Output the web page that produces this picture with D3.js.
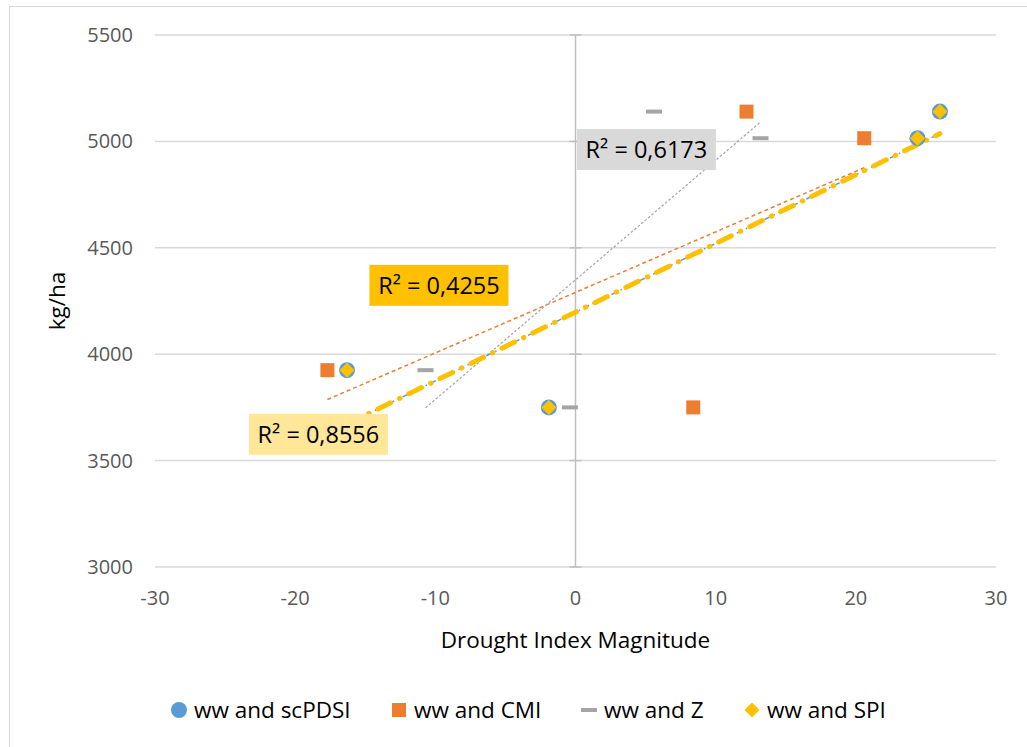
<!DOCTYPE html>
<html>
<head>
<meta charset="utf-8">
<script src="https://cdn.jsdelivr.net/npm/d3@7"></script>
<style>
  body { margin: 0; background: #fff; }
  svg { display: block; font-family: "Open Sans", "Noto Sans", sans-serif; }
  .tick-label { fill: #595959; font-size: 20px; }
  .axis-title { fill: #000; font-size: 22.5px; }
  .legend-text { fill: #000; font-size: 22.5px; }
  .r2-text { fill: #000; font-size: 23.5px; }
</style>
</head>
<body>
<div id="chart"></div>
<script>
// yields for the four years (kg/ha)
var yields = [3925, 3750, 5140, 5015];

// drought index values per index, same order as yields
var scPDSI = [-16.3, -1.9, 26.0, 24.4];
var cmi = [-17.7, 8.4, 12.2, 20.6];
var zIndex = [-10.7, -0.4, 5.6, 13.2];
var spi = [-16.3, -1.9, 26.0, 24.4];

var xTicks = [-30, -20, -10, 0, 10, 20, 30];
var yTicks = [3000, 3500, 4000, 4500, 5000, 5500];

// R² labels shown on the chart: text, anchor (data units)
var r2Labels = [
  { text: 'R² = 0,6173', x: 0.1, y: 5058, fill: '#d9d9d9' },
  { text: 'R² = 0,4255', x: -14.7, y: 4420, fill: '#ffc000' },
  { text: 'R² = 0,8556', x: -23.3, y: 3720, fill: '#ffe699' }
];

var series = [
  { key: 'scPDSI', name: 'ww and scPDSI', xs: scPDSI, color: '#5b9bd5', shape: 'circle',
    trend: { width: 1.5, dash: '6,4,1.5,4', cap: 'butt' } },
  { key: 'cmi', name: 'ww and CMI', xs: cmi, color: '#ed7d31', shape: 'square',
    trend: { width: 1.5, dash: '4,3', cap: 'butt' } },
  { key: 'z', name: 'ww and Z', xs: zIndex, color: '#a5a5a5', shape: 'dash',
    trend: { width: 1.25, dash: '2.5,2', cap: 'butt' } },
  { key: 'spi', name: 'ww and SPI', xs: spi, color: '#ffc000', shape: 'diamond',
    trend: { width: 5, dash: '14,10,0.5,10', cap: 'round' } }
];

var width = 1027, height = 747;
var margin = { top: 35, right: 31, bottom: 180, left: 155 };
var plotW = width - margin.left - margin.right;
var plotH = height - margin.top - margin.bottom;

var svg = d3.select('#chart').append('svg')
  .attr('width', width)
  .attr('height', height);

// chart area border (only left/top visible in the reference)
svg.append('rect')
  .attr('x', 9.5).attr('y', 6.5)
  .attr('width', 1040).attr('height', 760)
  .attr('fill', 'none')
  .attr('stroke', '#d9d9d9')
  .attr('stroke-width', 1);

var x = d3.scaleLinear().domain([-30, 30]).range([margin.left, margin.left + plotW]);
var y = d3.scaleLinear().domain([3000, 5500]).range([margin.top + plotH, margin.top]);

// horizontal gridlines
svg.append('g').selectAll('line').data(yTicks).enter().append('line')
  .attr('x1', x(-30)).attr('x2', x(30))
  .attr('y1', function (d) { return y(d); })
  .attr('y2', function (d) { return y(d); })
  .attr('stroke', '#d9d9d9')
  .attr('stroke-width', 1.5);

// vertical value axis at x = 0 with cross ticks
svg.append('line')
  .attr('x1', x(0)).attr('x2', x(0))
  .attr('y1', y(5500)).attr('y2', y(3000))
  .attr('stroke', '#bfbfbf')
  .attr('stroke-width', 1.5);

svg.append('g').selectAll('line').data(yTicks).enter().append('line')
  .attr('x1', x(0) - 6).attr('x2', x(0) + 6)
  .attr('y1', function (d) { return y(d); })
  .attr('y2', function (d) { return y(d); })
  .attr('stroke', '#bfbfbf')
  .attr('stroke-width', 1.5);

// tick labels
svg.append('g').selectAll('text').data(yTicks).enter().append('text')
  .attr('class', 'tick-label')
  .attr('x', margin.left - 22)
  .attr('y', function (d) { return y(d); })
  .attr('dy', '0.35em')
  .attr('text-anchor', 'end')
  .text(function (d) { return d; });

svg.append('g').selectAll('text').data(xTicks).enter().append('text')
  .attr('class', 'tick-label')
  .attr('x', function (d) { return x(d); })
  .attr('y', y(3000) + 38)
  .attr('text-anchor', 'middle')
  .text(function (d) { return d; });

// axis titles
svg.append('text')
  .attr('class', 'axis-title')
  .attr('x', x(0))
  .attr('y', 648)
  .attr('text-anchor', 'middle')
  .text('Drought Index Magnitude');

svg.append('text')
  .attr('class', 'axis-title')
  .attr('transform', 'translate(65,' + 301 + ') rotate(-90)')
  .attr('text-anchor', 'middle')
  .text('kg/ha');

// linear trendline from least squares fit
function fit(xs, ys) {
  var mx = d3.mean(xs), my = d3.mean(ys);
  var sxy = d3.sum(xs, function (v, i) { return (v - mx) * (ys[i] - my); });
  var sxx = d3.sum(xs, function (v) { return (v - mx) * (v - mx); });
  var slope = sxy / sxx;
  var x0 = d3.min(xs), x1 = d3.max(xs);
  return [[x0, my + slope * (x0 - mx)], [x1, my + slope * (x1 - mx)]];
}

var line = d3.line()
  .x(function (d) { return x(d[0]); })
  .y(function (d) { return y(d[1]); });

var trendOrder = ['cmi', 'z', 'scPDSI', 'spi'];
trendOrder.forEach(function (k) {
  var s = series.find(function (d) { return d.key === k; });
  svg.append('path')
    .datum(fit(s.xs, yields))
    .attr('d', line)
    .attr('fill', 'none')
    .attr('stroke', s.color)
    .attr('stroke-width', s.trend.width)
    .attr('stroke-dasharray', s.trend.dash)
    .attr('stroke-linecap', s.trend.cap);
});

function drawMarker(g, shape, color, cx, cy) {
  if (shape === 'circle') {
    g.append('circle').attr('cx', cx).attr('cy', cy).attr('r', 8).attr('fill', color);
  } else if (shape === 'square') {
    g.append('rect').attr('x', cx - 7).attr('y', cy - 7).attr('width', 14).attr('height', 14).attr('fill', color);
  } else if (shape === 'dash') {
    g.append('rect').attr('x', cx - 8).attr('y', cy - 2).attr('width', 16).attr('height', 4).attr('fill', color);
  } else if (shape === 'diamond') {
    g.append('path')
      .attr('d', 'M' + cx + ',' + (cy - 7.5) + 'L' + (cx + 7.5) + ',' + cy + 'L' + cx + ',' + (cy + 7.5) + 'L' + (cx - 7.5) + ',' + cy + 'Z')
      .attr('fill', color);
  }
}

// markers
var markers = svg.append('g');
series.forEach(function (s) {
  s.xs.forEach(function (v, i) {
    drawMarker(markers, s.shape, s.color, x(v), y(yields[i]));
  });
});

// R² labels
r2Labels.forEach(function (d) {
  var g = svg.append('g').attr('transform', 'translate(' + x(d.x) + ',' + y(d.y) + ')');
  g.append('rect').attr('width', 139).attr('height', 41).attr('fill', d.fill);
  g.append('text').attr('class', 'r2-text').attr('x', 69.5).attr('y', 29).attr('text-anchor', 'middle').text(d.text);
});

// legend
var legendX = [179, 399, 589, 752];
var legend = svg.append('g');
series.forEach(function (s, i) {
  drawMarker(legend, s.shape, s.color, legendX[i], 710);
  legend.append('text')
    .attr('class', 'legend-text')
    .attr('x', legendX[i] + 15)
    .attr('y', 710)
    .attr('dy', '0.35em')
    .text(s.name);
});
</script>
</body>
</html>
